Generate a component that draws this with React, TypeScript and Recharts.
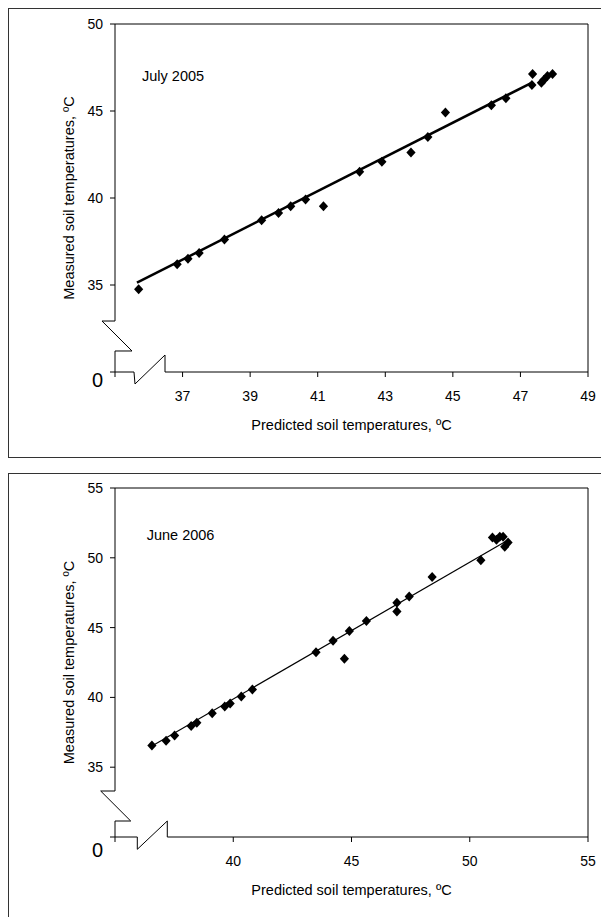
import React from 'react';
import { ScatterChart, Scatter, XAxis, YAxis, ReferenceLine, ReferenceDot } from 'recharts';

// July 2005 panel
const julyPredicted = [35.7, 36.84, 37.16, 37.49, 38.24, 39.34, 39.84, 40.2, 40.64, 41.17, 42.24, 42.9, 43.76, 44.26, 44.78, 46.14, 46.57, 47.34, 47.36, 47.62, 47.69, 47.8, 47.95];
const julyMeasured = [34.75, 36.19, 36.51, 36.84, 37.62, 38.72, 39.14, 39.52, 39.92, 39.52, 41.51, 42.09, 42.62, 43.51, 44.92, 45.33, 45.73, 46.49, 47.13, 46.63, 46.78, 47.01, 47.13];
const julyFitPredicted = [35.65, 47.3];
const julyFitMeasured = [35.13, 46.59];
const julyXTicks = [35, 37, 39, 41, 43, 45, 47, 49];
const julyYTicks = [30, 35, 40, 45, 50];

// June 2006 panel
const junePredicted = [36.56, 37.16, 37.52, 38.22, 38.46, 39.11, 39.64, 39.87, 40.34, 40.81, 43.5, 44.22, 44.7, 44.91, 45.63, 46.92, 46.92, 47.44, 48.41, 50.47, 50.96, 51.13, 51.27, 51.41, 51.48, 51.62];
const juneMeasured = [36.55, 36.89, 37.27, 37.96, 38.18, 38.87, 39.35, 39.56, 40.07, 40.57, 43.24, 44.06, 42.77, 44.75, 45.47, 46.78, 46.16, 47.23, 48.62, 49.82, 51.45, 51.29, 51.5, 51.5, 50.79, 51.09];
const juneFitPredicted = [36.6, 51.55];
const juneFitMeasured = [36.55, 51.2];
const juneXTicks = [35, 40, 45, 50, 55];
const juneYTicks = [30, 35, 40, 45, 50, 55];

// plot frame with the axis breaks, in axis units (closed outline)
const julyFrame = [
  [36.48, 30], [36.48, 30.977], [35.592, 29.31], [35.562, 30], [35, 30], [35, 31.207], [35.503, 31.207],
  [34.615, 32.93], [35, 32.93], [35, 50], [49, 50], [49, 30], [36.48, 30],
];
const juneFrame = [
  [37.211, 30], [37.211, 31.146], [35.943, 29.119], [35.943, 30], [35, 30], [35, 31.146], [35.664, 31.146],
  [34.395, 33.295], [35, 33.295], [35, 55], [55, 55], [55, 30], [37.211, 30],
];

const zip = (xs: number[], ys: number[]) => xs.map((x, i) => ({ x, y: ys[i] }));

const FONT = '"Liberation Sans", Arial, Helvetica, sans-serif';

const Diamond = (props: any) => {
  const { cx, cy } = props;
  if (cx == null || cy == null) return <g />;
  return <polygon points={`${cx},${cy - 5} ${cx + 4.6},${cy} ${cx},${cy + 5} ${cx - 4.6},${cy}`} fill="#000" />;
};

const makeYTick = (zeroShift: number) => (props: any) => {
  const { x, y, payload } = props;
  const isZero = payload.value === 30;
  return (
    <text
      x={x}
      y={isZero ? y + zeroShift : y}
      textAnchor="end"
      dominantBaseline="central"
      fill="#000"
      fontSize={isZero ? 20 : 14}
    >
      {isZero ? '0' : payload.value}
    </text>
  );
};

const YTitle = (props: any) => {
  const { viewBox } = props;
  const cx = viewBox.x + 14;
  const cy = viewBox.y + viewBox.height / 2;
  return (
    <text x={cx} y={cy} transform={`rotate(-90 ${cx} ${cy})`} textAnchor="middle" dominantBaseline="central" fill="#000" fontSize={14.5}>
      Measured soil temperatures, ºC
    </text>
  );
};

type PanelProps = {
  label: string;
  labelAt: [number, number];
  predicted: number[];
  measured: number[];
  fitX: number[];
  fitY: number[];
  xTicks: number[];
  yTicks: number[];
  frame: number[][];
  fitWidth: number;
  height: number;
  top: number;
  bottom: number;
  zeroShift: number;
};

const Panel = (p: PanelProps) => {
  const points = zip(p.predicted, p.measured);
  const fit = zip(p.fitX, p.fitY);
  const segments = p.frame.slice(1).map((pt, i) => [p.frame[i], pt]);
  const xDomain = [p.xTicks[0], p.xTicks[p.xTicks.length - 1]];
  const yDomain = [p.yTicks[0], p.yTicks[p.yTicks.length - 1]];
  return (
    <ScatterChart width={600} height={p.height} margin={{ top: p.top, right: 21, bottom: p.bottom, left: 46 }}>
      <XAxis
        type="number"
        dataKey="x"
        domain={xDomain}
        ticks={p.xTicks}
        interval={0}
        axisLine={false}
        tickLine={{ stroke: '#000' }}
        tickSize={5}
        tickMargin={14}
        tick={{ fill: '#000', fontSize: 14 }}
        tickFormatter={(v: number) => (v === xDomain[0] ? '' : String(v))}
        height={60}
        label={{ value: 'Predicted soil temperatures, ºC', position: 'insideBottom', offset: 2, fill: '#000', fontSize: 14.5 }}
      />
      <YAxis
        type="number"
        dataKey="y"
        domain={yDomain}
        ticks={p.yTicks}
        interval={0}
        axisLine={false}
        tickLine={{ stroke: '#000' }}
        tickSize={5}
        tickMargin={7}
        tick={makeYTick(p.zeroShift)}
        width={60}
        label={<YTitle />}
      />
      {segments.map((s, i) => (
        <ReferenceLine
          key={i}
          segment={[{ x: s[0][0], y: s[0][1] }, { x: s[1][0], y: s[1][1] }]}
          stroke="#000"
          strokeWidth={1}
          ifOverflow="visible"
        />
      ))}
      <ReferenceDot
        x={p.labelAt[0]}
        y={p.labelAt[1]}
        r={0}
        fill="none"
        stroke="none"
        label={{ value: p.label, position: 'right', offset: 0, fill: '#000', fontSize: 14.5 }}
      />
      <Scatter data={fit} line={{ stroke: '#000', strokeWidth: p.fitWidth }} shape={() => <g />} isAnimationActive={false} />
      <Scatter data={points} shape={<Diamond />} isAnimationActive={false} />
    </ScatterChart>
  );
};

const boxStyle: React.CSSProperties = {
  width: 620,
  border: '1px solid #333',
  background: '#fff',
};

export default function App() {
  return (
    <div style={{ width: 601, height: 917, overflow: 'hidden', padding: '8px 0 0 8px', boxSizing: 'border-box', fontFamily: FONT }}>
      <style>{'html, body { overflow: hidden; margin: 0; }'}</style>
      <div style={{ ...boxStyle, height: 448 }}>
        <Panel
          label="July 2005"
          labelAt={[35.8, 47.01]}
          predicted={julyPredicted}
          measured={julyMeasured}
          fitX={julyFitPredicted}
          fitY={julyFitMeasured}
          xTicks={julyXTicks}
          yTicks={julyYTicks}
          frame={julyFrame}
          fitWidth={2.5}
          height={448}
          top={15}
          bottom={25}
          zeroShift={8}
        />
      </div>
      <div style={{ ...boxStyle, height: 450, marginTop: 15 }}>
        <Panel
          label="June 2006"
          labelAt={[36.34, 51.63]}
          predicted={junePredicted}
          measured={juneMeasured}
          fitX={juneFitPredicted}
          fitY={juneFitMeasured}
          xTicks={juneXTicks}
          yTicks={juneYTicks}
          frame={juneFrame}
          fitWidth={1.2}
          height={450}
          top={14}
          bottom={27}
          zeroShift={13}
        />
      </div>
    </div>
  );
}
